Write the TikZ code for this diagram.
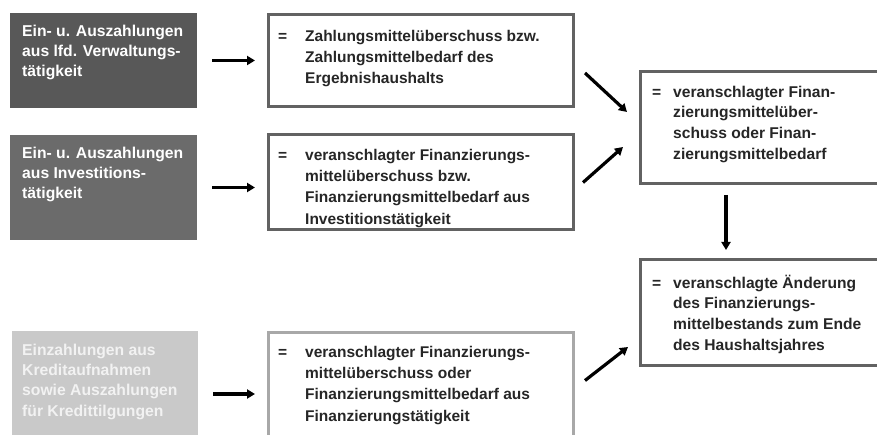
\documentclass[tikz,border=0pt]{standalone}
\usepackage{fontspec}
\setmainfont{Liberation Sans}
\usetikzlibrary{arrows.meta,calc}
\definecolor{fillA}{HTML}{585858}
\definecolor{fillB}{HTML}{6B6B6B}
\definecolor{fillC}{HTML}{C9C9C9}
\definecolor{bord}{HTML}{626262}
\definecolor{bordlight}{HTML}{A8A8A8}
\definecolor{txtdark}{HTML}{262626}
\definecolor{txtlight}{HTML}{F2F2F2}
\begin{document}
\begin{tikzpicture}[x=1pt,y=-1pt,
  gbox/.style={anchor=north west, inner sep=0pt, outer sep=0pt},
  wbox/.style={draw=bord, line width=3pt, fill=white, anchor=north west, inner sep=0pt, outer sep=0pt},
  arr/.style={line width=3.2pt, draw=black, -{Triangle[length=8pt,width=9pt]}},
  ltxt/.style={anchor=north west, inner sep=0pt, text=white, font=\fontsize{15.7}{20.3}\selectfont\bfseries},
  mtxt/.style={anchor=north west, inner sep=0pt, text=txtdark, font=\fontsize{15.5}{21.3}\selectfont\bfseries},
  rtxt/.style={anchor=north west, inner sep=0pt, text=txtdark, font=\fontsize{15.6}{20.8}\selectfont\bfseries}]
\useasboundingbox (0,0) rectangle (877,435);
\clip (0,0) rectangle (877,435);
\fill[white] (0,0) rectangle (877,435);

% left grey boxes
\node[gbox, fill=fillA, minimum width=187pt, minimum height=95pt] (L1) at (10,13) {};
\node[gbox, fill=fillB, minimum width=187pt, minimum height=105pt] (L2) at (10,135) {};
\node[gbox, fill=fillC, minimum width=186pt, minimum height=126pt] (L3) at (12,331) {};

% middle boxes
\node[wbox, minimum width=305pt, minimum height=92pt] (M1) at (268,15) {};
\node[wbox, minimum width=305pt, minimum height=95pt] (M2) at (268,135) {};
\node[wbox, draw=bordlight, minimum width=305pt, minimum height=125pt] (M3) at (268,332) {};

% right boxes
\node[wbox, minimum width=250pt, minimum height=112pt] (R1) at (640,72) {};
\node[wbox, minimum width=250pt, minimum height=105pt] (R2) at (640,260) {};

% texts
\node[ltxt] (L1t) at (22,21.8) {\begin{tabular}{@{}l@{}}Ein- u. Auszahlungen\\aus lfd. Verwaltungs-\\tätigkeit\end{tabular}};
\node[ltxt] (L2t) at (22,143.8) {\begin{tabular}{@{}l@{}}Ein- u. Auszahlungen\\aus Investitions-\\tätigkeit\end{tabular}};
\node[ltxt, text=txtlight] (L3t) at (22,340.8) {\begin{tabular}{@{}l@{}}Einzahlungen aus\\Kreditaufnahmen\\sowie Auszahlungen\\für Kredittilgungen\end{tabular}};

\node[mtxt] (M1t) at (278,26.1) {\begin{tabular}{@{}l@{}l@{}}\makebox[27pt][l]{=}&Zahlungsmittelüberschuss bzw.\\&Zahlungsmittelbedarf des\\&Ergebnishaushalts\end{tabular}};
\node[mtxt] (M2t) at (278,145.1) {\begin{tabular}{@{}l@{}l@{}}\makebox[27pt][l]{=}&veranschlagter Finanzierungs-\\&mittelüberschuss bzw.\\&Finanzierungsmittelbedarf aus\\&Investitionstätigkeit\end{tabular}};
\node[mtxt] (M3t) at (278,342.1) {\begin{tabular}{@{}l@{}l@{}}\makebox[27pt][l]{=}&veranschlagter Finanzierungs-\\&mittelüberschuss oder\\&Finanzierungsmittelbedarf aus\\&Finanzierungstätigkeit\end{tabular}};

\node[rtxt] (R1t) at (652,82.4) {\begin{tabular}{@{}l@{}l@{}}\makebox[21pt][l]{=}&veranschlagter Finan-\\&zierungsmittelüber-\\&schuss oder Finan-\\&zierungsmittelbedarf\end{tabular}};
\node[rtxt] (R2t) at (652,273.4) {\begin{tabular}{@{}l@{}l@{}}\makebox[21pt][l]{=}&veranschlagte Änderung\\&des Finanzierungs-\\&mittelbestands zum Ende\\&des Haushaltsjahres\end{tabular}};

% arrows
\draw[arr, shorten <=15pt, shorten >=13pt] (L1.east) -- (L1.east -| M1.west);
\draw[arr, shorten <=15pt, shorten >=13pt] (L2.east) -- (L2.east -| M2.west);
\draw[arr, shorten <=15pt, shorten >=13pt] (L3.east) -- (L3.east -| M3.west);
\draw[arr] ($(M1.east)+(12,12)$) -- ($(R1.west)+(-13,-16)$);
\draw[arr] ($(M2.east)+(10,0)$) -- ($(R1.west)+(-17,19)$);
\draw[arr] ($(M3.east)+(12,-14)$) -- ($(R2.west)+(-12,34.5)$);
\draw[arr] ($(R1.south west)+(86,11)$) -- ($(R2.north west)+(86,-10)$);
\end{tikzpicture}
\end{document}
